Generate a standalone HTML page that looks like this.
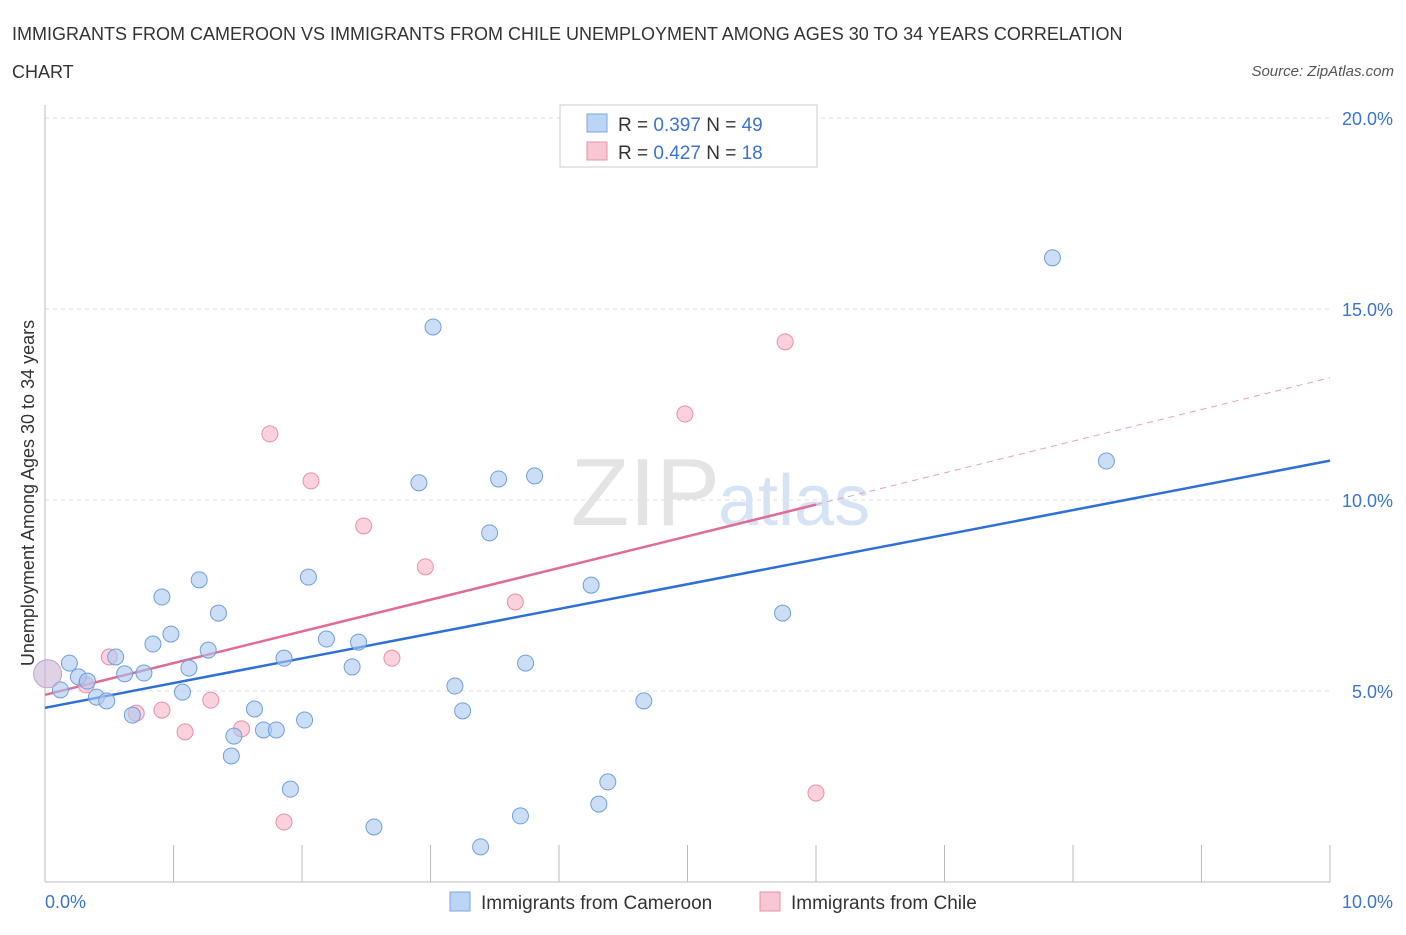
<!DOCTYPE html>
<html><head><meta charset="utf-8"><style>
body{margin:0;background:#fff;font-family:"Liberation Sans",sans-serif;}
svg text{font-family:"Liberation Sans",sans-serif;}
</style></head><body>
<svg width="1406" height="930" xmlns="http://www.w3.org/2000/svg">
<text x="12" y="40" font-size="18" fill="#333">IMMIGRANTS FROM CAMEROON VS IMMIGRANTS FROM CHILE UNEMPLOYMENT AMONG AGES 30 TO 34 YEARS CORRELATION</text>
<text x="12" y="78" font-size="18" fill="#333">CHART</text>
<text x="1394" y="76" font-size="15" fill="#555" font-style="italic" text-anchor="end">Source: ZipAtlas.com</text>
<g id="grid"></g>
<text x="720" y="525" font-size="96" fill="#e4e4e4" text-anchor="end" font-family="Liberation Serif">ZIP</text>
<text x="718" y="525" font-size="72" fill="#d6e3f5">atlas</text>
<line x1="45" y1="105" x2="45" y2="882" stroke="#bbb"/>
<line x1="45" y1="882" x2="1330" y2="882" stroke="#bbb"/>
<g id="ticks"></g>
<g id="trends"></g>
<g id="points"></g>
<text transform="translate(34,493) rotate(-90)" font-size="18" fill="#333" text-anchor="middle">Unemployment Among Ages 30 to 34 years</text>
<text x="45" y="908" font-size="18" fill="#3b73d0">0.0%</text>
<text x="1393" y="908" font-size="18" fill="#3b73d0" text-anchor="end">10.0%</text>
<g>
<rect x="560" y="105" width="257" height="62" fill="#fff" stroke="#ccc"/>
<rect x="587" y="114" width="20" height="18" fill="#bcd4f5" stroke="#7aa6e0"/>
<rect x="587" y="142" width="20" height="18" fill="#f9c6d4" stroke="#e890a8"/>
<text x="618" y="131" font-size="19" fill="#333">R = <tspan fill="#3b73d0">0.397</tspan>   N = <tspan fill="#3b73d0">49</tspan></text>
<text x="618" y="159" font-size="19" fill="#333">R = <tspan fill="#3b73d0">0.427</tspan>   N = <tspan fill="#3b73d0"> 18</tspan></text>
</g>
<g>
<rect x="450" y="892" width="20" height="19" fill="#bcd4f5" stroke="#7aa6e0"/>
<text x="481" y="909" font-size="19" fill="#333">Immigrants from Cameroon</text>
<rect x="760" y="892" width="20" height="19" fill="#f9c6d4" stroke="#e890a8"/>
<text x="791" y="909" font-size="19" fill="#333">Immigrants from Chile</text>
</g>
</svg>
<script>
const yTicks=[5,10,15,20];
const yTickLabels=["5.0%","10.0%","15.0%","20.0%"];
const blueX=[0.19,0.12,0.26,0.33,0.40,0.48,0.55,0.62,0.68,0.77,0.84,0.91,0.98,1.07,1.12,1.20,1.27,1.35,1.47,1.45,1.63,1.70,1.80,1.86,1.91,2.02,2.05,2.19,2.39,2.44,2.56,2.91,3.02,3.19,3.25,3.39,3.46,3.53,3.70,3.74,3.81,4.25,4.31,4.38,4.66,5.74,7.84,8.26];
const blueY=[5.73,5.03,5.37,5.26,4.84,4.74,5.89,5.45,4.37,5.47,6.23,7.46,6.49,4.97,5.60,7.91,6.07,7.04,3.82,3.30,4.53,3.98,3.98,5.86,2.43,4.24,7.98,6.36,5.63,6.28,1.44,10.45,14.53,5.13,4.48,0.92,9.14,10.55,1.73,5.73,10.63,7.77,2.04,2.62,4.74,7.04,16.34,11.02];
const pinkX=[0.32,0.50,0.71,0.91,1.09,1.29,1.53,1.75,1.86,2.07,2.48,2.70,2.96,3.66,4.98,5.76,6.00];
const pinkY=[5.16,5.89,4.42,4.50,3.93,4.76,4.01,11.73,1.57,10.50,9.32,5.86,8.25,7.33,12.25,14.14,2.33];
const bigX=[0.02];const bigY=[5.45];
const blueTrend=[4.56,11.03];
const pinkTrend=[4.90,0.83];
const NS="http://www.w3.org/2000/svg";
const sx=v=>45+v*128.5, sy=v=>882-v*38.2;
function mk(t,a,p){const e=document.createElementNS(NS,t);for(const k in a)e.setAttribute(k,a[k]);p.appendChild(e);return e;}
const grid=document.getElementById('grid');
yTicks.forEach((t,i)=>{
 const l=mk('line',{x1:45,x2:1330,y1:sy(t),y2:sy(t),stroke:'#ddd','stroke-dasharray':'4,4'},grid);
 
 
 const tx=mk('text',{x:1393,y:sy(t)+7,'font-size':18,fill:'#3b73d0','text-anchor':'end'},grid);
 tx.textContent=yTickLabels[i];
 
 
});
const tk=document.getElementById('ticks');
for(let i=0;i<=10;i++){const l=mk('line',{x1:sx(i),x2:sx(i),y1:845,y2:882,stroke:'#bbb'},tk);
 
 }
const tr=document.getElementById('trends');
let b=mk('line',{x1:sx(0),y1:sy(blueTrend[0]),x2:sx(10),y2:sy(blueTrend[1]),stroke:'#2e6fd8','stroke-width':2.5},tr);


let p=mk('line',{x1:sx(0),y1:sy(pinkTrend[0]),x2:sx(6),y2:sy(pinkTrend[0]+6*pinkTrend[1]),stroke:'#e06b94','stroke-width':2.5},tr);


let pd=mk('line',{x1:sx(6),y1:sy(pinkTrend[0]+6*pinkTrend[1]),x2:sx(10),y2:sy(pinkTrend[0]+10*pinkTrend[1]),stroke:'#e8a0b8','stroke-width':1,'stroke-dasharray':'6,5'},tr);


const pts=document.getElementById('points');
pinkX.forEach((x,i)=>{const c=mk('circle',{cx:sx(x),cy:sy(pinkY[i]),r:8,fill:'rgba(246,178,198,0.6)',stroke:'#e890a8','stroke-width':1},pts);
 
 });
blueX.forEach((x,i)=>{const c=mk('circle',{cx:sx(x),cy:sy(blueY[i]),r:8,fill:'rgba(170,200,240,0.6)',stroke:'#6f9fdc','stroke-width':1},pts);
 
 });
bigX.forEach((x,i)=>{const c=mk('circle',{cx:sx(x),cy:sy(bigY[i]),r:14,fill:'rgba(200,180,215,0.6)',stroke:'#c8a0c0','stroke-width':1},pts);
 
 });
</script>
</body></html>
